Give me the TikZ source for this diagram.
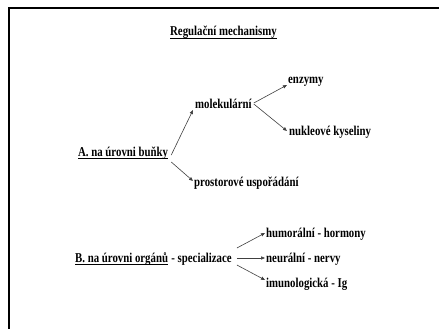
\documentclass[tikz,border=0pt]{standalone}
\usepackage{fontspec}
\setmainfont{Liberation Serif}[FakeStretch=0.8]
\usetikzlibrary{arrows.meta}
\tikzset{
  lbl/.style={anchor=base west, inner sep=0pt, font=\fontsize{13.5}{15}\selectfont\bfseries},
  conn/.style={draw=black!75, line width=0.6pt, -{Triangle[length=4pt,width=3.2pt]}},
  frame/.style={line width=2.5pt},
  uline/.style={line width=0.8pt}
}
\begin{document}
\begin{tikzpicture}[x=1pt,y=-1pt]
\useasboundingbox (0,0) rectangle (439,329);
\fill[white] (0,0) rectangle (439,329);
\draw[frame] (8,8) -- (440,8);
\draw[frame] (9,8) -- (9,330);
\node[lbl] (T) at (170,36) {Regulační mechanismy};
\node[lbl] (enz) at (288,84) {enzymy};
\node[lbl] (mol) at (195,108) {molekulární};
\node[lbl] (nuk) at (289,135) {nukleové kyseliny};
\node[lbl] (A) at (78,156) {A. na úrovni buňky};
\node[lbl] (pros) at (194,186) {prostorové uspořádání};
\node[lbl] (B) at (75,262) {B. na úrovni orgánů};
\node[lbl, anchor=base west] (Bs) at ([xshift=3pt]B.base east) {- specializace};
\node[lbl] (hum) at (266,237) {humorální - hormony};
\node[lbl] (neu) at (266,262) {neurální - nervy};
\node[lbl] (imu) at (266,287) {imunologická - Ig};
\draw[uline] ([yshift=-2pt]T.base west) -- ([yshift=-2pt]T.base east);
\draw[uline] ([yshift=-2pt]A.base west) -- ([yshift=-2pt]A.base east);
\draw[uline] ([yshift=-2pt]B.base west) -- ([yshift=-2pt]B.base east);
\draw[conn] ([shift={(3,-1)}]A.base east) -- ([shift={(-2,2)}]mol.base west);
\draw[conn] ([shift={(3,6)}]A.base east) -- ([shift={(-1,-5)}]pros.base west);
\draw[conn] ([shift={(2,-5)}]mol.base east) -- ([shift={(-1,1)}]enz.base west);
\draw[conn] ([shift={(2,-4)}]mol.base east) -- ([shift={(-2,-4)}]nuk.base west);
\draw[conn] ([shift={(5,-14)}]Bs.base east) -- ([shift={(-1,-4)}]hum.base west);
\draw[conn] ([shift={(5,-4)}]Bs.base east) -- ([shift={(-1,-4)}]neu.base west);
\draw[conn] ([shift={(5,3)}]Bs.base east) -- ([shift={(-1,-7)}]imu.base west);
\end{tikzpicture}
\end{document}
